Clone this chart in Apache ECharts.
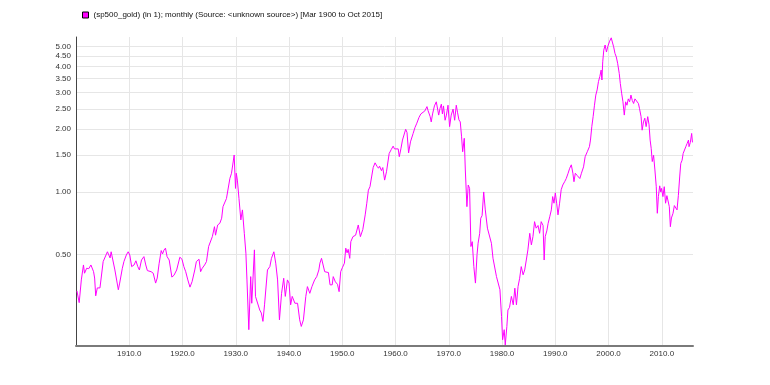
<!DOCTYPE html>
<html><head><meta charset="utf-8">
<script src="https://cdn.jsdelivr.net/npm/echarts@6/dist/echarts.min.js"></script>
<style>html,body{margin:0;padding:0;background:#fff}#c{width:770px;height:385px}</style>
</head><body><div id="c"></div>
<script>
const seriesName = '(sp500_gold) (in 1); monthly (Source: <unknown source>) [Mar 1900 to Oct 2015]';
const years = [
1900.17,1900.4,1900.6,1900.9,1901.0,1901.4,1901.6,1902.0,1902.4,1902.8,1903.3,1903.5,1903.7,1904.0,1904.5,
1905.1,1905.4,1905.9,1906.2,1906.4,1906.6,1906.9,1907.3,1907.6,1907.95,1908.2,1908.7,1909.0,1909.45,1909.8,
1910.1,1910.45,1910.9,1911.25,1911.6,1911.9,1912.3,1912.75,1913.1,1913.4,1913.75,1914.1,1914.5,1914.95,
1915.25,1915.6,1916.0,1916.25,1916.5,1916.8,1917.1,1917.5,1918.0,1918.4,1918.9,1919.1,1919.5,1919.9,
1920.25,1920.6,1921.0,1921.4,1921.8,1922.3,1922.6,1923.1,1923.4,1923.7,1924.15,1924.5,1924.9,
1925.2,1925.6,1926.0,1926.2,1926.6,1927.0,1927.35,1927.6,1927.9,1928.25,1928.5,1928.9,1929.2,1929.7,1929.95,
1930.1,1930.3,1930.6,1930.95,1931.25,1931.6,1931.9,1932.1,1932.45,1932.8,1933.0,1933.25,1933.5,1933.7,1934.0,
1934.5,1934.8,1935.1,1935.4,1935.95,1936.4,1936.7,1937.15,1937.5,1937.85,1938.2,1938.6,1939.0,1939.3,1939.7,
1940.0,1940.3,1940.6,1941.1,1941.6,1942.0,1942.3,1942.7,1943.15,1943.45,1943.9,1944.3,1944.8,
1945.2,1945.6,1945.8,1946.1,1946.4,1946.7,1947.0,1947.4,1947.7,1948.1,1948.3,1948.7,1949.1,1949.4,1949.7,
1950.05,1950.4,1950.65,1950.9,1951.1,1951.4,1951.6,1952.0,1952.5,1953.0,1953.4,1953.85,1954.3,1954.6,1954.9,
1955.2,1955.5,1955.8,1956.15,1956.5,1956.8,1957.0,1957.35,1957.6,1957.95,1958.3,1958.8,1959.2,1959.55,1959.8,
1960.1,1960.5,1960.7,1961.0,1961.3,1961.6,1961.9,1962.15,1962.45,1962.8,1963.3,1963.65,1964.0,1964.4,1964.75,
1965.1,1965.5,1965.9,1966.1,1966.5,1966.7,1966.95,1967.3,1967.65,1967.95,1968.1,1968.35,1968.6,1968.8,1969.0,1969.3,1969.55,1969.85,
1970.15,1970.45,1970.8,1971.1,1971.4,1971.65,1971.9,1972.15,1972.4,1972.6,1972.9,1973.1,1973.4,1973.65,1973.9,1974.15,1974.4,1974.7,
1975.0,1975.3,1975.5,1975.8,1976.0,1976.25,1976.55,1976.85,1977.25,1977.6,1978.0,1978.3,1978.65,1978.95,1979.25,1979.6,1979.9,
1980.1,1980.4,1980.6,1980.9,1981.1,1981.4,1981.75,1982.1,1982.4,1982.7,1983.0,1983.3,1983.6,1983.95,1984.25,1984.55,1984.85,
1985.2,1985.5,1985.8,1986.1,1986.4,1986.75,1987.05,1987.35,1987.7,1987.9,1988.1,1988.4,1988.65,1988.95,1989.25,1989.5,1989.75,
1990.0,1990.25,1990.5,1990.8,1991.1,1991.4,1991.75,1992.05,1992.4,1992.7,1993.0,1993.3,1993.5,1993.75,1994.1,1994.6,1994.9,
1995.3,1995.6,1996.0,1996.4,1996.6,1996.85,1997.1,1997.35,1997.6,1997.85,1998.1,1998.35,1998.6,1998.75,1998.9,1999.1,1999.35,1999.6,1999.85,
2000.2,2000.5,2000.7,2000.95,2001.2,2001.45,2001.7,2002.0,2002.2,2002.45,2002.7,2002.95,2003.2,2003.45,2003.7,2003.95,2004.2,2004.45,2004.7,2004.95,
2005.3,2005.6,2005.8,2006.1,2006.3,2006.55,2006.8,2007.05,2007.35,2007.6,2007.8,2008.0,2008.2,2008.45,2008.7,2008.95,2009.15,2009.35,2009.6,2009.8,2009.95,
2010.2,2010.45,2010.7,2010.95,2011.2,2011.4,2011.6,2011.8,2012.1,2012.35,2012.6,2012.85,2013.1,2013.35,2013.55,2013.8,2014.0,2014.25,2014.5,2014.75,
2015.0,2015.1,2015.35,2015.6,2015.75
];
const values = [
0.335,0.332,0.294,0.292,0.378,0.446,0.407,0.43,0.428,0.446,0.414,0.386,0.317,0.346,0.346,
0.463,0.471,0.516,0.509,0.482,0.516,0.52,0.422,0.414,0.339,0.365,0.43,0.463,0.498,0.516,
0.498,0.438,0.446,0.467,0.438,0.422,0.471,0.489,0.446,0.419,0.42,0.414,0.407,0.365,
0.386,0.452,0.523,0.504,0.525,0.537,0.489,0.471,0.39,0.398,0.422,0.419,0.486,0.475,
0.438,0.414,0.378,0.349,0.371,0.422,0.463,0.475,0.414,0.43,0.446,0.463,0.547,
0.537,0.61,0.681,0.62,0.694,0.707,0.748,0.85,0.86,0.93,0.94,1.163,1.23,1.505,1.04,
1.23,1.14,0.93,0.734,0.82,0.633,0.508,0.378,0.218,0.392,0.292,0.292,0.527,0.315,0.318,
0.271,0.262,0.239,0.287,0.422,0.438,0.48,0.516,0.455,0.378,0.243,0.326,0.385,0.315,0.378,
0.365,0.287,0.315,0.292,0.292,0.243,0.226,0.243,0.315,0.351,0.326,0.351,0.378,
0.392,0.422,0.455,0.48,0.489,0.414,0.405,0.41,0.358,0.358,0.392,0.37,0.36,0.332,0.414,
0.435,0.455,0.537,0.51,0.53,0.48,0.577,0.61,0.62,0.694,0.61,0.66,0.776,0.883,1.02,
1.06,1.18,1.31,1.38,1.33,1.30,1.33,1.266,1.31,1.14,1.25,1.53,1.60,1.66,1.61,
1.60,1.61,1.477,1.61,1.775,1.80,2.0,1.93,1.54,1.74,1.91,2.04,2.14,2.28,2.37,
2.4,2.45,2.57,2.46,2.30,2.17,2.37,2.59,2.71,2.67,2.34,2.52,2.64,2.37,2.59,2.21,2.34,2.61,
2.06,2.34,2.5,2.21,2.61,2.4,2.22,2.17,1.84,1.56,1.81,1.275,0.85,1.08,1.04,0.547,0.577,0.438,
0.365,0.5,0.567,0.633,0.748,0.77,1.0,0.82,0.67,0.66,0.567,0.48,0.49,0.392,0.40,0.339,0.252,
0.195,0.218,0.184,0.226,0.271,0.279,0.315,0.287,0.345,0.287,0.351,0.385,0.438,0.40,0.422,0.471,0.527,
0.633,0.557,0.61,0.72,0.67,0.69,0.633,0.72,0.69,0.471,0.61,0.65,0.707,0.76,0.82,0.95,0.883,
0.99,0.883,0.776,0.883,1.025,1.08,1.12,1.16,1.23,1.30,1.35,1.23,1.12,1.23,1.2,1.16,1.23,
1.32,1.477,1.56,1.65,1.775,2.06,2.30,2.61,2.92,3.09,3.39,3.58,3.85,3.45,4.22,4.80,5.08,4.7,5.0,
5.3,5.5,5.25,4.98,4.63,4.45,4.15,3.71,3.32,2.98,2.71,2.34,2.71,2.61,2.8,2.71,2.92,2.75,2.66,2.8,
2.85,2.66,2.52,2.30,1.98,2.17,2.26,2.06,2.30,2.1,1.775,1.62,1.40,1.5,1.275,1.06,0.79,0.95,1.07,1.0,1.04,
0.95,1.06,0.883,0.96,0.95,0.85,0.681,0.75,0.79,0.86,0.85,0.82,0.96,1.18,1.37,1.42,1.53,1.5,1.65,1.71,
1.775,1.65,1.73,1.91,1.73
];
const yTicks = [0.5,1,1.5,2,2.5,3,3.5,4,4.5,5];
const xTicks = [1910,1920,1930,1940,1950,1960,1970,1980,1990,2000,2010];

const chart = echarts.init(document.getElementById('c'), null, {renderer:'canvas'});
const font = 'Liberation Sans, Arial, sans-serif';
chart.setOption({
  animation: false,
  backgroundColor: '#fff',
  grid: {left: 76, right: 77, top: 37, bottom: 39, containLabel: false},
  legend: {
    left: 77, top: 6, itemWidth: 6, itemHeight: 6, icon: 'rect',
    itemStyle: {borderColor: '#000', borderWidth: 1},
    textStyle: {fontSize: 8, fontFamily: font, color: '#111'},
    data: [seriesName]
  },
  xAxis: {
    type: 'value', min: 1900, max: 2015.85,
    axisLine: {onZero: false, lineStyle: {color: '#7a7a7a', width: 2}},
    axisTick: {show: false, customValues: xTicks},
    axisLabel: {customValues: xTicks, formatter: v => v.toFixed(1), fontSize: 8, fontFamily: font, color: '#333', margin: 4},
    splitLine: {show: true, lineStyle: {color: '#e6e6e6', width: 1}}
  },
  yAxis: {
    type: 'log', logBase: 10, min: 0.182, max: 5.55,
    axisLine: {show: true, lineStyle: {color: '#444', width: 1}},
    axisTick: {show: false, customValues: yTicks},
    axisLabel: {customValues: yTicks, formatter: v => Number(v).toFixed(2), fontSize: 8, fontFamily: font, color: '#333', margin: 5},
    splitLine: {show: true, lineStyle: {color: '#e6e6e6', width: 1}},
    minorSplitLine: {show: false}
  },
  series: [{
    type: 'line', name: seriesName,
    data: years.map((y, i) => [y, values[i]]),
    showSymbol: false, symbol: 'none',
    lineStyle: {color: '#ff00ff', width: 1},
    itemStyle: {color: '#ff00ff'}
  }]
});
</script></body></html>
